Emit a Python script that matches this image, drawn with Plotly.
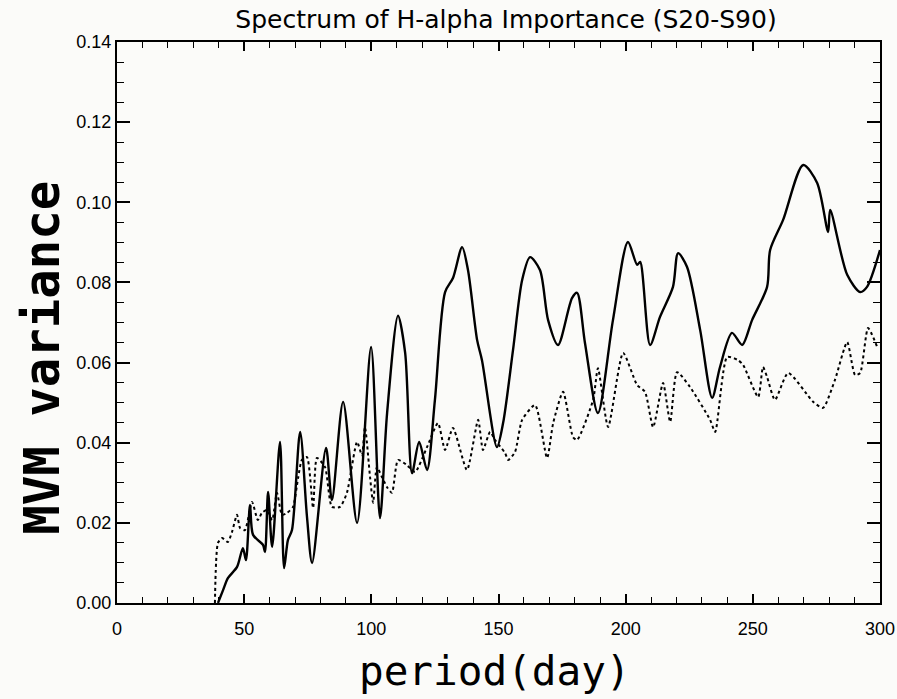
import plotly.graph_objects as go

# Solid curve: MVM variance spectrum
solid_period = [39.7, 41.7, 43.6, 47.2, 49.5, 50.7, 52.3, 53.5, 57.4, 58.2, 59.4, 61.0, 64.1, 65.7,
                67.2, 68.8, 72.0, 74.7, 76.7, 82.2, 84.5, 88.9, 94.4, 99.9, 103.4, 106.2, 110.5,
                113.3, 116.0, 118.8, 121.9, 125.0, 129.0, 132.1, 135.7, 138.0, 141.6, 143.5, 149.4,
                151.8, 155.7, 159.3, 162.4, 166.3, 169.5, 173.4, 178.9, 180.9, 184.0, 189.1, 195.0,
                200.9, 204.5, 205.7, 209.6, 213.5, 218.6, 220.6, 224.1, 229.3, 234.0, 237.1, 241.8,
                245.8, 249.7, 255.6, 256.8, 261.9, 269.8, 275.3, 279.6, 280.4, 287.1, 292.2, 294.9, 300.0]
solid_var = [0.0000, 0.0032, 0.0062, 0.0090, 0.0137, 0.0107, 0.0245, 0.0170, 0.0145, 0.0127, 0.0277,
             0.0140, 0.0402, 0.0087, 0.0157, 0.0182, 0.0427, 0.0215, 0.0100, 0.0387, 0.0257, 0.0502,
             0.0200, 0.0639, 0.0212, 0.0474, 0.0717, 0.0624, 0.0324, 0.0402, 0.0332, 0.0507, 0.0776,
             0.0811, 0.0888, 0.0831, 0.0656, 0.0606, 0.0389, 0.0449, 0.0631, 0.0806, 0.0863, 0.0831,
             0.0706, 0.0644, 0.0761, 0.0774, 0.0649, 0.0474, 0.0706, 0.0901, 0.0844, 0.0851, 0.0644,
             0.0714, 0.0789, 0.0873, 0.0839, 0.0681, 0.0512, 0.0589, 0.0674, 0.0644, 0.0706, 0.0789,
             0.0881, 0.0956, 0.1093, 0.1048, 0.0926, 0.0981, 0.0819, 0.0776, 0.0789, 0.0881]

# Dotted curve
dot_period = [38.5, 39.7, 41.3, 43.6, 45.2, 47.2, 48.4, 50.3, 53.1, 55.4, 57.0, 59.0, 61.0, 62.9,
              64.9, 66.9, 69.2, 71.2, 72.7, 74.7, 77.1, 78.6, 81.8, 84.5, 87.7, 90.4, 94.4, 96.3,
              97.5, 99.5, 100.7, 102.2, 104.2, 106.2, 108.1, 110.5, 114.0, 117.2, 121.9, 126.2,
              129.0, 132.1, 137.6, 142.0, 143.9, 146.7, 148.6, 152.6, 153.8, 156.5, 159.3, 164.4,
              169.1, 171.5, 175.4, 179.3, 180.9, 187.2, 189.1, 193.1, 199.0, 204.5, 207.6, 210.8,
              214.7, 217.5, 220.2, 225.3, 233.2, 235.2, 239.9, 244.2, 246.2, 252.1, 254.0, 255.6,
              258.7, 263.9, 273.7, 277.6, 282.3, 287.1, 290.2, 292.2, 295.3, 298.9]
dot_var = [0.0000, 0.0150, 0.0162, 0.0152, 0.0177, 0.0220, 0.0187, 0.0182, 0.0252, 0.0207, 0.0225,
           0.0232, 0.0207, 0.0275, 0.0220, 0.0225, 0.0240, 0.0312, 0.0357, 0.0364, 0.0237, 0.0362,
           0.0339, 0.0240, 0.0240, 0.0275, 0.0402, 0.0369, 0.0439, 0.0314, 0.0250, 0.0339, 0.0314,
           0.0289, 0.0275, 0.0357, 0.0344, 0.0327, 0.0389, 0.0449, 0.0382, 0.0437, 0.0332, 0.0457,
           0.0382, 0.0427, 0.0407, 0.0374, 0.0357, 0.0377, 0.0457, 0.0494, 0.0362, 0.0449, 0.0527,
           0.0414, 0.0407, 0.0507, 0.0586, 0.0439, 0.0624, 0.0544, 0.0527, 0.0439, 0.0549, 0.0452,
           0.0576, 0.0539, 0.0457, 0.0427, 0.0614, 0.0606, 0.0594, 0.0514, 0.0589, 0.0564, 0.0507,
           0.0574, 0.0502, 0.0487, 0.0557, 0.0651, 0.0569, 0.0574, 0.0686, 0.0639]

title_text = "Spectrum of H-alpha Importance (S20-S90)"
x_title = "period(day)"
y_title = "MVM variance"
x_ticks = [0, 50, 100, 150, 200, 250, 300]
y_ticks = [0.00, 0.02, 0.04, 0.06, 0.08, 0.10, 0.12, 0.14]

fig = go.Figure()
fig.add_trace(go.Scatter(x=dot_period, y=dot_var, mode="lines",
                         line=dict(color="black", width=2, dash="dot", shape="spline", smoothing=0.6),
                         showlegend=False))
fig.add_trace(go.Scatter(x=solid_period, y=solid_var, mode="lines",
                         line=dict(color="black", width=2.4, shape="spline", smoothing=0.8),
                         showlegend=False))

tickfont = dict(family="Liberation Sans, Arial, sans-serif", size=18, color="black")
fig.update_layout(
    width=897, height=699,
    margin=dict(l=117, r=17, t=42, b=96),
    paper_bgcolor="#fbfbf9", plot_bgcolor="#fbfbf9",
    title=dict(text=title_text, x=(506 / 897), xanchor="center", y=0.973, yanchor="middle",
               font=dict(family="DejaVu Sans", size=25, color="black")),
    xaxis=dict(range=[0, 300], tickvals=x_ticks, ticktext=[str(v) for v in x_ticks],
               showgrid=False, zeroline=False, showline=True, linecolor="black", linewidth=2,
               mirror="allticks", ticks="inside", ticklen=9, tickwidth=1.5, tickcolor="black",
               minor=dict(dtick=10, ticks="inside", ticklen=6, tickwidth=1.2, tickcolor="black"),
               tickfont=tickfont, ticklabelstandoff=8, automargin=False),
    yaxis=dict(range=[0, 0.14], tickvals=y_ticks, ticktext=[f"{v:.2f}" for v in y_ticks],
               showgrid=False, zeroline=False, showline=True, linecolor="black", linewidth=2,
               mirror="allticks", ticks="inside", ticklen=13, tickwidth=1.5, tickcolor="black",
               minor=dict(dtick=0.005, ticks="inside", ticklen=7, tickwidth=1.2, tickcolor="black"),
               tickfont=tickfont, automargin=False),
    annotations=[
        dict(text=x_title, xref="paper", yref="paper", x=0.495, y=-0.121, xanchor="center",
             yanchor="middle", showarrow=False,
             font=dict(family="DejaVu Sans Mono", size=41, color="black")),
        dict(text="<b>" + y_title + "</b>", xref="paper", yref="paper", x=-0.097, y=0.437,
             xanchor="center", yanchor="middle", textangle=-90, showarrow=False,
             font=dict(family="DejaVu Sans Mono", size=49, color="black")),
    ],
)

fig.write_html("out.html")
